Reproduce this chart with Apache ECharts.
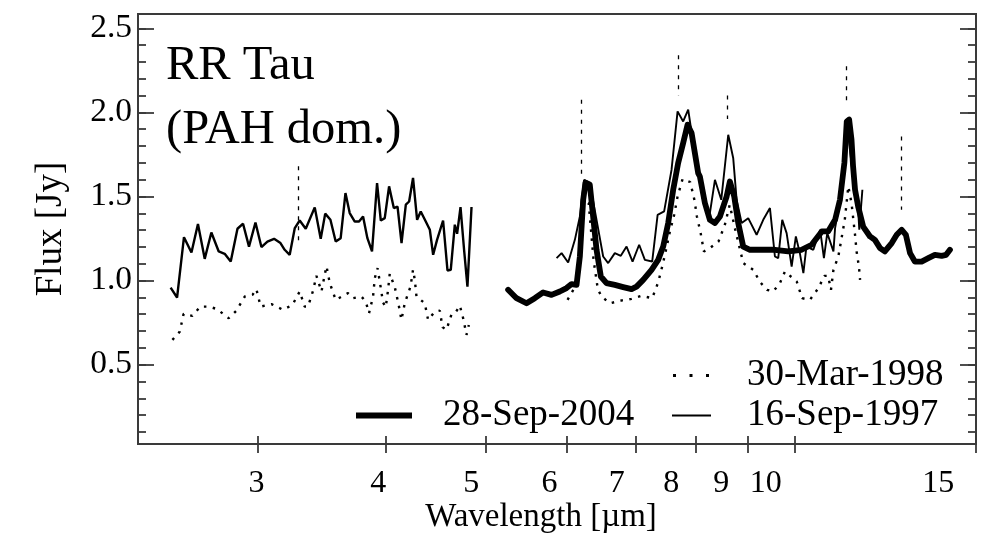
<!DOCTYPE html>
<html><head><meta charset="utf-8">
<script src="https://cdn.jsdelivr.net/npm/echarts@6/dist/echarts.min.js"></script>
<style>html,body{margin:0;padding:0;background:#fff}#c{width:991px;height:538px}</style>
</head><body><div id="c"></div>
<script>
// ---------- DATA ----------
// 16-Sep-1997 (thin solid), short-wavelength segment
const wlThinA = [2.47,2.506,2.545,2.588,2.626,2.666,2.706,2.751,2.788,2.826,2.869,2.905,2.944,2.987,3.027,3.068,3.114,3.159,3.189,3.225,3.262,3.298,3.343,3.411,3.457,3.492,3.533,3.575,3.615,3.654,3.689,3.731,3.767,3.801,3.838,3.878,3.922,3.955,3.990,4.029,4.072,4.106,4.143,4.183,4.214,4.251,4.290,4.325,4.374,4.414,4.447,4.486,4.547,4.592,4.626,4.668,4.692,4.728,4.766,4.802,4.846];
const fxThinA = [0.958,0.899,1.258,1.167,1.336,1.129,1.286,1.173,1.159,1.113,1.308,1.338,1.202,1.345,1.199,1.232,1.248,1.223,1.183,1.153,1.312,1.357,1.308,1.435,1.248,1.398,1.361,1.232,1.252,1.520,1.401,1.351,1.351,1.381,1.252,1.173,1.580,1.357,1.371,1.560,1.431,1.440,1.223,1.451,1.470,1.610,1.361,1.411,1.351,1.302,1.153,1.242,1.357,1.060,1.064,1.332,1.278,1.437,1.183,0.964,1.437];
// 16-Sep-1997 (thin solid), long-wavelength segment
const wlThinB = [5.863,5.929,6.017,6.108,6.177,6.236,6.316,6.412,6.508,6.581,6.680,6.770,6.858,6.951,7.054,7.145,7.263,7.352,7.460,7.585,7.688,7.785,7.873,7.961,8.142,8.265,8.359,8.478,8.612,8.708,8.775,8.874,9.006,9.177,9.314,9.455,9.561,9.632,9.719,9.815,9.926,10.02,10.11,10.19,10.26,10.42,10.58,10.67,10.75,10.90,10.94,11.06,11.14,11.23,11.31,11.44,11.52,11.55,11.63];
const fxThinB = [1.133,1.163,1.107,1.242,1.381,1.599,1.580,1.361,1.143,1.104,1.163,1.147,1.202,1.113,1.213,1.123,1.113,1.391,1.411,1.659,2.006,1.946,2.016,1.818,1.480,1.401,1.599,1.480,1.867,1.729,1.480,1.342,1.371,1.272,1.361,1.431,1.143,1.133,1.361,1.282,1.083,1.262,1.163,1.044,1.202,1.183,1.302,1.133,1.282,1.173,1.312,1.470,1.679,1.937,1.778,1.520,1.421,1.302,1.540];
// 30-Mar-1998 (dotted), short-wavelength segment
const wlDotA = [2.480,2.521,2.543,2.593,2.640,2.692,2.741,2.813,2.862,2.916,2.967,2.993,3.022,3.096,3.177,3.245,3.298,3.335,3.360,3.398,3.424,3.463,3.488,3.502,3.528,3.575,3.675,3.717,3.787,3.824,3.852,3.887,3.902,3.926,3.952,3.975,3.999,4.020,4.035,4.081,4.115,4.142,4.173,4.227,4.251,4.268,4.284,4.364,4.397,4.463,4.514,4.541,4.582,4.634,4.678,4.721,4.756,4.792,4.817];
const fxDotA = [0.647,0.696,0.802,0.790,0.845,0.845,0.830,0.776,0.821,0.905,0.915,0.949,0.845,0.860,0.826,0.855,0.935,0.845,0.845,0.939,1.028,0.935,1.034,1.085,0.985,0.885,0.925,0.895,0.905,0.875,0.806,0.905,1.014,1.074,0.968,0.869,0.842,0.945,1.040,0.961,0.860,0.766,0.865,0.964,1.064,1.004,0.905,0.865,0.766,0.815,0.821,0.723,0.707,0.800,0.812,0.851,0.776,0.677,0.736];
// 30-Mar-1998 (dotted), long-wavelength segment
const wlDotB = [6.009,6.12,6.18,6.23,6.30,6.37,6.43,6.484,6.606,6.786,6.935,7.092,7.263,7.361,7.439,7.498,7.557,7.630,7.688,7.775,7.908,7.983,8.028,8.096,8.155,8.265,8.426,8.547,8.64,8.75,8.906,9.108,9.245,9.392,9.525,9.669,9.778,10.04,10.16,10.34,10.54,10.68,10.77,10.84,10.90,11.02,11.10,11.18,11.27,11.35,11.44,11.48,11.54,11.57];
const fxDotB = [0.885,0.97,1.15,1.48,1.46,1.12,0.95,0.905,0.865,0.882,0.891,0.909,0.895,0.989,1.099,1.193,1.292,1.391,1.500,1.604,1.586,1.480,1.381,1.282,1.173,1.193,1.232,1.332,1.45,1.30,1.104,1.064,0.992,0.945,0.935,0.985,1.054,0.994,0.895,0.885,0.955,1.028,1.028,0.945,1.064,1.143,1.252,1.361,1.560,1.461,1.272,1.173,1.083,1.004];
// 28-Sep-2004 (thick solid)
const wlThick = [5.260,5.360,5.481,5.584,5.689,5.797,5.906,5.995,6.063,6.131,6.177,6.223,6.256,6.316,6.363,6.412,6.474,6.557,6.680,6.806,6.935,7.013,7.118,7.253,7.361,7.444,7.528,7.613,7.698,7.785,7.862,7.933,8.051,8.082,8.173,8.265,8.359,8.453,8.581,8.644,8.728,8.807,8.906,9.041,9.281,9.561,9.851,10.15,10.38,10.62,10.77,10.94,11.06,11.17,11.23,11.29,11.35,11.39,11.44,11.52,11.65,11.83,11.96,12.10,12.23,12.42,12.56,12.70,12.82,12.94,13.08,13.28,13.48,13.68,13.89,14.03,14.15];
const fxThick = [0.945,0.895,0.865,0.895,0.929,0.915,0.935,0.955,0.979,0.974,1.143,1.480,1.583,1.570,1.381,1.183,1.024,0.985,0.974,0.961,0.949,0.964,1.004,1.064,1.123,1.202,1.342,1.540,1.699,1.818,1.927,1.877,1.639,1.619,1.461,1.361,1.342,1.381,1.500,1.589,1.500,1.342,1.202,1.183,1.183,1.183,1.173,1.183,1.213,1.292,1.292,1.361,1.480,1.699,1.946,1.957,1.838,1.679,1.540,1.440,1.321,1.262,1.242,1.193,1.173,1.223,1.272,1.302,1.272,1.163,1.113,1.113,1.133,1.153,1.147,1.153,1.183];
// PAH feature markers (vertical dash-dot segments)
const featWl = [3.29, 6.20, 7.70, 8.60, 11.22, 12.70];
const featTop = [1.68, 2.075, 2.34, 2.10, 2.274, 1.857];
const featBot = [1.24, 1.62, 2.10, 1.96, 2.036, 1.421];
// axis ticks / labels
const xTickValues = [3, 4, 5, 6, 7, 8, 9, 10, 15];
const xLabelValues = [3, 4, 5, 6, 7, 8, 9, 10, 15];
const yMajor = [0.5, 1.0, 1.5, 2.0, 2.5];
const yMinor = [0.1,0.2,0.3,0.4,0.5,0.6,0.7,0.8,0.9,1.0,1.1,1.2,1.3,1.4,1.5,1.6,1.7,1.8,1.9,2.0,2.1,2.2,2.3,2.4,2.5];
const seriesNames = ['30-Mar-1998', '28-Sep-2004', '16-Sep-1997'];

// ---------- STYLE / LAYOUT ----------
const FONT = 'Liberation Serif';
const INK = '#000';
const FRAME = '#3a3a3a';
const labelShift = [1, 7.7, 14.3, 17.5, 19, 24, 26.6, 29.2, 37.7]; // px shift of x labels to the left
const X_MIN = 2.296, X_MAX = 15.0, Y_MIN = 0.028, Y_MAX = 2.585;
const ICON_DOTS = 'path://M0,0h3v3h-3zM16.5,0h3v3h-3zM33,0h3v3h-3z';

const zip = (a, b) => a.map((v, i) => [v, b[i]]);
const rich = {};
xLabelValues.forEach((v, i) => { rich['s' + i] = { padding: [0, 2 * labelShift[i], 0, 0], fontSize: 32, fontFamily: FONT, color: INK }; });

const baseX = { type: 'log', logBase: 10, min: X_MIN, max: X_MAX, position: 'bottom', gridIndex: 0, splitLine: { show: false }, minorTick: { show: false } };
const baseY = { type: 'value', min: Y_MIN, max: Y_MAX, gridIndex: 0, splitLine: { show: false } };
const tickStyle = { color: FRAME, width: 1.8 };
const legendText = { fontFamily: FONT, fontSize: 37, color: INK };

const markData = featWl.map((w, i) => [{ coord: [w, featTop[i]] }, { coord: [w, featBot[i]] }]);

const option = {
  animation: false,
  backgroundColor: '#fff',
  grid: { left: 138, right: 15, top: 14, bottom: 94, show: true, borderColor: FRAME, borderWidth: 2, outerBoundsMode: 'none' },
  title: {
    text: 'RR Tau\n(PAH dom.)', left: 161, top: 29,
    textStyle: { fontFamily: FONT, fontSize: 48.5, fontWeight: 'normal', color: INK, lineHeight: 64 }
  },
  legend: [
    { data: [{ name: seriesNames[0], icon: ICON_DOTS, itemStyle: { color: INK, opacity: 1 } }],
      left: 668, top: 352, itemWidth: 36, itemHeight: 3, selectedMode: false,
      textStyle: Object.assign({ padding: [0, 0, 0, 33] }, legendText) },
    { data: [{ name: seriesNames[1], icon: 'rect', itemStyle: { color: INK } }],
      left: 351, top: 392, itemWidth: 56, itemHeight: 6, selectedMode: false,
      textStyle: Object.assign({ padding: [0, 0, 0, 26] }, legendText) },
    { data: [{ name: seriesNames[2], icon: 'rect', itemStyle: { color: INK } }],
      left: 667, top: 392, itemWidth: 39, itemHeight: 2, selectedMode: false,
      textStyle: Object.assign({ padding: [0, 0, 0, 31] }, legendText) }
  ],
  xAxis: [
    Object.assign({}, baseX, {
      axisLine: { show: true, lineStyle: { color: FRAME, width: 2 } },
      axisTick: { show: true, inside: true, length: 8, customValues: xTickValues, lineStyle: tickStyle },
      axisLabel: {
        show: true, customValues: xLabelValues, margin: 24, fontSize: 32, fontFamily: FONT, color: INK,
        formatter: (v) => { const i = xLabelValues.indexOf(Math.round(v)); return '{s' + i + '|' + Math.round(v) + '}'; },
        rich: rich
      },
      name: 'Wavelength [µm]', nameLocation: 'middle', nameGap: 57, nameMoveOverlap: false,
      nameTextStyle: { fontFamily: FONT, fontSize: 33, color: INK, padding: [0, 32, 0, 0] }
    }),
    Object.assign({}, baseX, {
      axisLine: { show: false },
      axisTick: { show: true, inside: false, length: 9, customValues: xTickValues, lineStyle: tickStyle },
      axisLabel: { show: false }
    })
  ],
  yAxis: [
    Object.assign({}, baseY, {
      position: 'left',
      axisLine: { show: true, lineStyle: { color: FRAME, width: 2 } },
      axisTick: { show: true, inside: true, length: 16, customValues: yMajor, lineStyle: tickStyle },
      axisLabel: { show: true, customValues: yMajor, margin: 6, fontSize: 33.5, fontFamily: FONT, color: INK, formatter: (v) => v.toFixed(1) },
      name: 'Flux [Jy]', nameLocation: 'middle', nameGap: 68, nameRotate: 90, nameMoveOverlap: false,
      nameTextStyle: { fontFamily: FONT, fontSize: 37, color: INK }
    }),
    Object.assign({}, baseY, {
      position: 'left',
      axisLine: { show: false },
      axisTick: { show: true, inside: true, length: 8, customValues: yMinor, lineStyle: tickStyle },
      axisLabel: { show: false }
    }),
    Object.assign({}, baseY, {
      position: 'right',
      axisLine: { show: true, lineStyle: { color: FRAME, width: 2 } },
      axisTick: { show: true, inside: true, length: 16, customValues: yMajor, lineStyle: tickStyle },
      axisLabel: { show: false }
    }),
    Object.assign({}, baseY, {
      position: 'right',
      axisLine: { show: false },
      axisTick: { show: true, inside: true, length: 8, customValues: yMinor, lineStyle: tickStyle },
      axisLabel: { show: false }
    })
  ],
  series: [
    { name: seriesNames[0], type: 'line', data: zip(wlDotA, fxDotA), symbol: 'none', z: 2,
      lineStyle: { color: INK, width: 2.4, type: [2.5, 6.5] }, itemStyle: { color: INK } },
    { name: seriesNames[0], type: 'line', data: zip(wlDotB, fxDotB), symbol: 'none', z: 2,
      lineStyle: { color: INK, width: 2.4, type: [2.5, 6.5] }, itemStyle: { color: INK } },
    { name: seriesNames[2], type: 'line', data: zip(wlThinA, fxThinA), symbol: 'none', z: 3,
      lineStyle: { color: INK, width: 2.4 }, itemStyle: { color: INK } },
    { name: seriesNames[2], type: 'line', data: zip(wlThinB, fxThinB), symbol: 'none', z: 3,
      lineStyle: { color: INK, width: 1.9 }, itemStyle: { color: INK } },
    { name: seriesNames[1], type: 'line', data: zip(wlThick, fxThick), symbol: 'none', z: 4,
      lineStyle: { color: INK, width: 5.8, join: 'round', cap: 'round' }, itemStyle: { color: INK },
      markLine: { silent: true, symbol: 'none', label: { show: false },
        lineStyle: { color: INK, width: 1.3, type: [4, 6] }, data: markData } }
  ]
};
const chart = echarts.init(document.getElementById('c'));
chart.setOption(option);
</script></body></html>
